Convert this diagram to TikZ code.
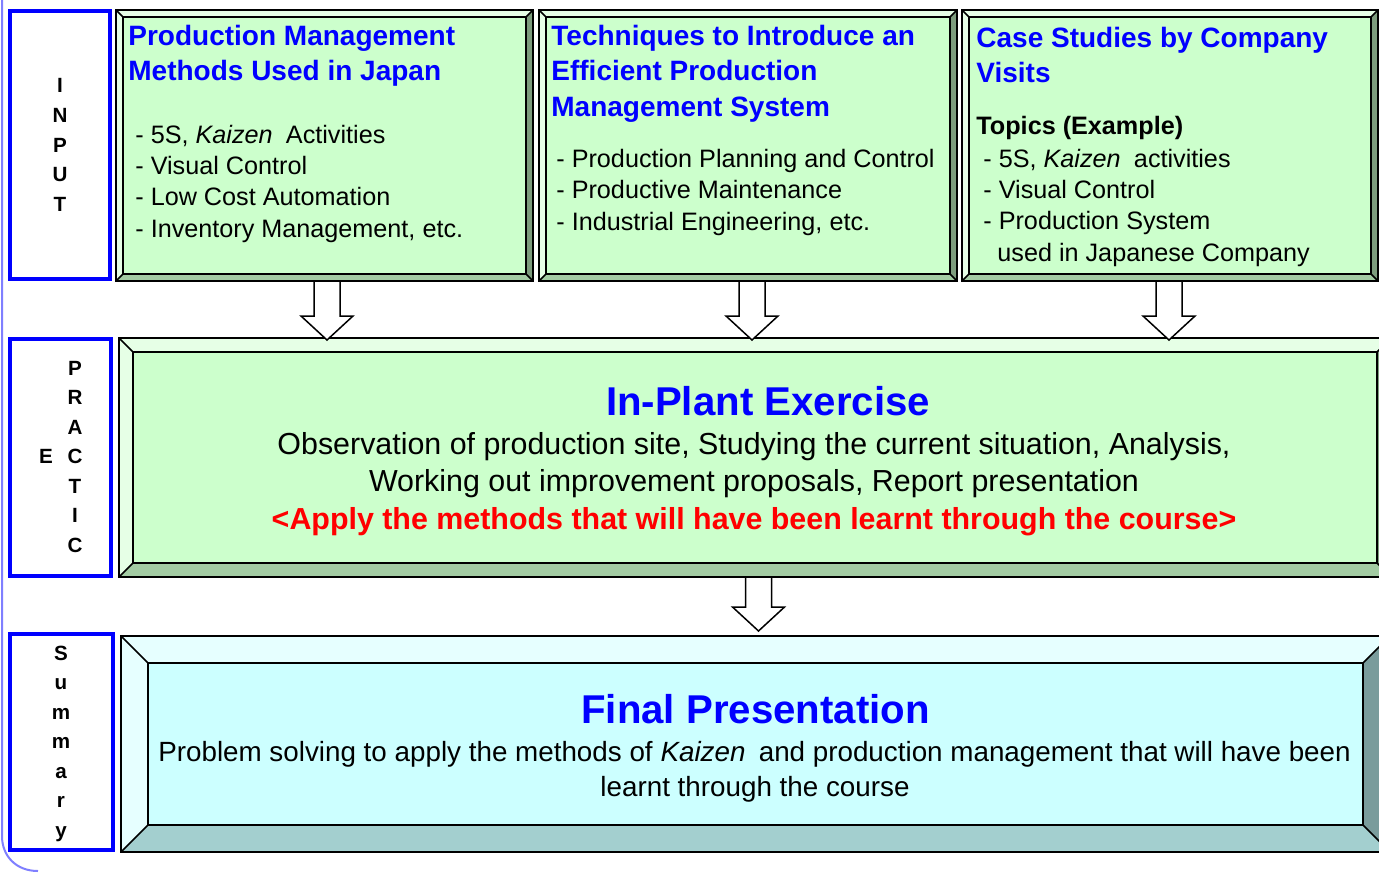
\documentclass[tikz,border=0pt]{standalone}
\usepackage{fontspec}
\setmainfont{Liberation Sans}
\usetikzlibrary{calc}
\definecolor{gface}{HTML}{CCFFCC}
\definecolor{glight}{HTML}{E6FFE6}
\definecolor{gmid}{HTML}{A3CCA3}
\definecolor{gdark}{HTML}{7D9C7D}
\definecolor{cface}{HTML}{CCFFFF}
\definecolor{clight}{HTML}{E6FFFF}
\definecolor{cmid}{HTML}{A3CFCF}
\definecolor{cdark}{HTML}{7A9C9C}
\definecolor{frame}{HTML}{7F7FFF}
% name, x1, y1, x2, y2, depth, colour set
\newcommand{\bevelbox}[7]{%
\coordinate(#1o1)at(#2,#3);\coordinate(#1o2)at(#4,#3);\coordinate(#1o3)at(#4,#5);\coordinate(#1o4)at(#2,#5);
\coordinate(#1i1)at(#2+#6,#3+#6);\coordinate(#1i2)at(#4-#6,#3+#6);\coordinate(#1i3)at(#4-#6,#5-#6);\coordinate(#1i4)at(#2+#6,#5-#6);
\fill[#7light](#1o1)--(#1o2)--(#1i2)--(#1i1)--cycle;
\fill[#7light](#1o1)--(#1i1)--(#1i4)--(#1o4)--cycle;
\fill[#7mid](#1o4)--(#1i4)--(#1i3)--(#1o3)--cycle;
\fill[#7dark](#1o2)--(#1o3)--(#1i3)--(#1i2)--cycle;
\draw[edge,fill=#7face](#1i1)rectangle(#1i3);
\draw[edge](#1o1)rectangle(#1o3);
\draw[edge](#1o1)--(#1i1)(#1o2)--(#1i2)(#1o3)--(#1i3)(#1o4)--(#1i4);}
\newcommand{\hollowarrow}[2]{%
\draw[blockarrow]($(#1)+(-13,0)$)--($(#2)+(-13,-24)$)--($(#2)+(-26,-24)$)--(#2)--($(#2)+(26,-24)$)--($(#2)+(13,-24)$)--($(#1)+(13,0)$)--cycle;}
\begin{document}
\begin{tikzpicture}[x=0.5pt,y=-0.5pt,
edge/.style={line width=0.75pt,line join=miter},
tag/.style={draw=blue,line width=1.7pt,fill=white},
letter/.style={font=\fontsize{10.3}{12}\selectfont\bfseries,anchor=base,inner sep=0pt},
head/.style={font=\fontsize{14}{17}\selectfont\bfseries,text=blue,anchor=base west,inner sep=0pt},
item/.style={font=\fontsize{12.6}{15}\selectfont,anchor=base west,inner sep=0pt},
big/.style={font=\fontsize{20.1}{24}\selectfont\bfseries,text=blue,anchor=base,inner sep=0pt},
body/.style={font=\fontsize{15.2}{19}\selectfont,anchor=base,inner sep=0pt},
blockarrow/.style={draw,line width=0.75pt,fill=white,line join=miter}]
\useasboundingbox(0,0)rectangle(1379,872);
\clip(0,0)rectangle(1379,872);
\draw[frame,line width=1pt](2,-5)--(2,836)..controls(2,856)and(16,871)..(38,871);
% side tags
\draw[tag](10,11)rectangle(110,279);
\foreach\l[count=\i from 0]in{I,N,P,U,T}\node[letter](tin\i)at(60,93+29.5*\i){\l};
\draw[tag](10,339)rectangle(111,576);
\foreach\l[count=\i from 0]in{P,R,A,C,T,I,C}\node[letter](tpr\i)at(75,375+29.5*\i){\l};
\node[letter](tpr7)at(46,463.5){E};
\draw[tag](10,634)rectangle(113,850);
\foreach\l[count=\i from 0]in{S,u,m,m,a,r,y}\node[letter](tsu\i)at(61,660+29.5*\i){\l};
% input boxes
\bevelbox{b1}{116}{10}{533}{281}{7}{g}
\bevelbox{b2}{539}{10}{957}{281}{7}{g}
\bevelbox{b3}{962}{10}{1378}{281}{7}{g}
\node[head](h1a)at(128,45.5){Production Management};
\node[head](h1b)at(128,81){Methods Used in Japan};
\node[item](i1a)at(135,143){- 5S, \textit{Kaizen}\hspace{0.25em} Activities};
\node[item](i1b)at(135,174){- Visual Control};
\node[item](i1c)at(135,205.5){- Low Cost Automation};
\node[item](i1d)at(135,237){- Inventory Management, etc.};
\node[head](h2a)at(551,45.5){Techniques to Introduce an};
\node[head](h2b)at(551,81){Efficient Production};
\node[head](h2c)at(551,116){Management System};
\node[item](i2a)at(556,167){- Production Planning and Control};
\node[item](i2b)at(556,198.5){- Productive Maintenance};
\node[item](i2c)at(556,230){- Industrial Engineering, etc.};
\node[head](h3a)at(976,47.5){Case Studies by Company};
\node[head](h3b)at(976,83){Visits};
\node[item,font=\fontsize{12.6}{15}\selectfont\bfseries](h3c)at(976,134){Topics (Example)};
\node[item](i3a)at(983,167){- 5S, \textit{Kaizen}\hspace{0.25em} activities};
\node[item](i3b)at(983,198){- Visual Control};
\node[item](i3c)at(983,229.5){- Production System};
\node[item](i3d)at(997,261){used in Japanese Company};
% exercise
\bevelbox{b4}{119}{338}{1391}{577}{14}{g}
\node[big](h4)at(768,415){In-Plant Exercise};
\node[body](t4a)at(754,454){Observation of production site, Studying the current situation, Analysis,};
\node[body](t4b)at(754,491){Working out improvement proposals, Report presentation};
\node[body,font=\fontsize{15.2}{18}\selectfont\bfseries,text=red](t4c)at(754,529){<Apply the methods that will have been learnt through the course>};
% summary
\bevelbox{b5}{121}{636}{1390}{852}{27}{c}
\node[big](h5)at(755.5,723){Final Presentation};
\node[body,font=\fontsize{13.9}{17}\selectfont](t5a)at(754.5,761){Problem solving to apply the methods of \textit{Kaizen}\hspace{0.2em} and production management that will have been};
\node[body,font=\fontsize{13.9}{17}\selectfont](t5b)at(755,796){learnt through the course};
% arrows
\coordinate(a1s)at(327,281);\coordinate(a1e)at(327,340);
\coordinate(a2s)at(752,281);\coordinate(a2e)at(752,340);
\coordinate(a3s)at(1169,281);\coordinate(a3e)at(1169,340);
\coordinate(a4s)at(758.5,577);\coordinate(a4e)at(758.5,631);
\hollowarrow{a1s}{a1e}
\hollowarrow{a2s}{a2e}
\hollowarrow{a3s}{a3e}
\hollowarrow{a4s}{a4e}
\end{tikzpicture}
\end{document}
